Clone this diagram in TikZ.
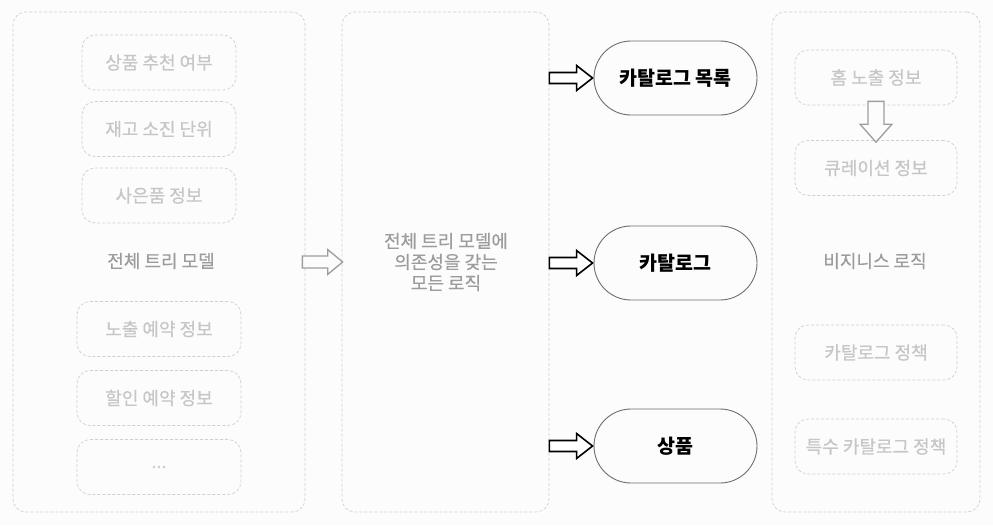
\documentclass[tikz,border=0pt]{standalone}
\usepackage{fontspec}
\setmainfont{Noto Sans CJK KR}
\newfontfamily\medfont[FakeBold=0.4]{Noto Sans CJK KR}
\usetikzlibrary{calc}
\definecolor{bgc}{HTML}{FBFCFB}
\definecolor{dashc}{HTML}{CFCFCF}
\definecolor{faint}{HTML}{C6C6C6}
\definecolor{midtxt}{HTML}{9C9C9C}
\definecolor{pillc}{HTML}{6E6E6E}
\tikzset{
  container/.style={draw=dashc, line width=0.7pt, dash pattern=on 3pt off 2pt, rounded corners=13pt, inner sep=0pt},
  itembox/.style={draw=dashc, line width=0.7pt, dash pattern=on 3pt off 2pt, rounded corners=13pt, minimum height=55pt, inner sep=0pt, text=faint, font=\medfont\fontsize{18}{22}\selectfont},
  grouplabel/.style={text=midtxt, font=\medfont\fontsize{18}{21}\selectfont, align=center},
  pill/.style={draw=pillc, line width=0.9pt, rounded corners=37pt, minimum width=163pt, minimum height=74pt, font=\fontsize{19.5}{22}\selectfont\bfseries, text=black},
  blackarrow/.style={draw=black, line width=1.6pt, fill=white, line join=miter},
  grayarrow/.style={draw=black!38, line width=1.3pt, fill=bgc, line join=miter}
}
\begin{document}
\begin{tikzpicture}[x=1pt,y=-1pt]
\fill[bgc] (0,0) rectangle (993,525);
\useasboundingbox (0,0) rectangle (993,525);
% containers
\node[container, minimum width=292pt, minimum height=500pt] (left) at (159,262) {};
\node[container, minimum width=207pt, minimum height=500pt] (mid) at (445.5,262) {};
\node[container, minimum width=208pt, minimum height=500pt] (right) at (876,262) {};
% left items
\node[itembox, minimum width=154pt] (i1) at (159,62.5) {상품 추천 여부};
\node[itembox, minimum width=154pt] (i2) at (159,129) {재고 소진 단위};
\node[itembox, minimum width=154pt] (i3) at (159,195.5) {사은품 정보};
\node[grouplabel] (lbl) at (161,261) {전체 트리 모델};
\node[itembox, minimum width=164pt] (i4) at (159,329) {노출 예약 정보};
\node[itembox, minimum width=164pt] (i5) at (159,398) {할인 예약 정보};
\node[itembox, minimum width=164pt] (i6) at (159,467) {...};
% middle
\node[grouplabel] (midlbl) at (446,262) {전체 트리 모델에\\의존성을 갖는\\모든 로직};
% right items
\node[itembox, minimum width=162pt] (r1) at (876,77.5) {홈 노출 정보};
\node[itembox, minimum width=162pt] (r2) at (876,168) {큐레이션 정보};
\node[grouplabel] (rlbl) at (875,261) {비지니스 로직};
\node[itembox, minimum width=162pt] (r3) at (876,352.5) {카탈로그 정책};
\node[itembox, minimum width=162pt] (r4) at (876,446.5) {특수 카탈로그 정책};
% pills
\node[pill] (p1) at (675.5,78) {카탈로그 목록};
\node[pill] (p2) at (675.5,263) {카탈로그};
\node[pill] (p3) at (675.5,446) {상품};
% gray arrow left -> mid
\draw[grayarrow] let \p1=(left.east), \p2=(mid.west) in
  (\x1-3pt,\y2+6pt) -- (\x2-14pt,\y2+6pt) -- (\x2-14pt,\y2+12.5pt) -- (\x2+1pt,\y2) --
  (\x2-14pt,\y2-12.5pt) -- (\x2-14pt,\y2-6pt) -- (\x1-3pt,\y2-6pt) -- cycle;
% black arrows mid -> pills
\foreach \pn in {p1,p2,p3}{
  \draw[blackarrow] let \p1=(mid.east), \p2=(\pn.west) in
    (\x1,\y2+5.5pt) -- (\x2-17pt,\y2+5.5pt) -- (\x2-17pt,\y2+12.5pt) -- (\x2-1pt,\y2) --
    (\x2-17pt,\y2-12.5pt) -- (\x2-17pt,\y2-5.5pt) -- (\x1,\y2-5.5pt) -- cycle;
}
% down arrow r1 -> r2
\draw[grayarrow] let \p1=(r1.south), \p2=(r2.north) in
  (\x1-8pt,\y1+4pt) -- (\x1-8pt,\y2+16pt) -- (\x1-16pt,\y2+16pt) -- (\x1,\y2-2pt) --
  (\x1+16pt,\y2+16pt) -- (\x1+8pt,\y2+16pt) -- (\x1+8pt,\y1+4pt) -- cycle;
\end{tikzpicture}
\end{document}
